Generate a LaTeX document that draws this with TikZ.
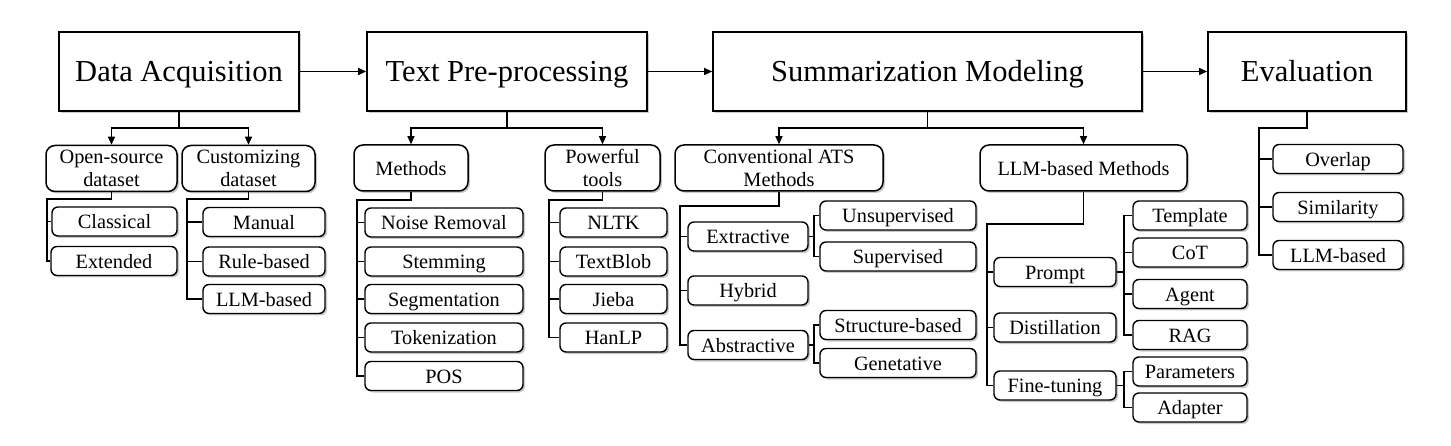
\documentclass[tikz,border=0pt]{standalone}
\usepackage{fontspec}
\setmainfont{Liberation Serif}
\usetikzlibrary{arrows.meta,shadows,calc}
\begin{document}
\begin{tikzpicture}[x=1pt,y=-1pt,
  shd/.style={drop shadow={shadow xshift=2pt,shadow yshift=-2pt,opacity=0.35,fill=black!60}},
  mainbox/.style={draw,line width=1.7pt,fill=white,shd,inner sep=0pt,minimum height=79pt,
    text height=21pt,text depth=0pt,font=\fontsize{30.5}{34}\selectfont},
  catbox/.style={draw,line width=1.5pt,fill=white,shd,rounded corners=9pt,inner sep=0pt,
    minimum height=46pt,align=center,font=\fontsize{20.3}{23.5}\selectfont},
  oneline/.style={text height=14.5pt,text depth=0pt},
  leaf/.style={draw,line width=1.4pt,fill=white,shd,rounded corners=6pt,inner sep=0pt,
    minimum height=29pt,text height=14.5pt,text depth=0pt,font=\fontsize{20.3}{24}\selectfont},
  conn/.style={line width=1.1pt},
  arr/.style={line width=1.1pt,-{Triangle[length=8pt,width=7pt]}}]
\useasboundingbox (0,0) rectangle (1451,446);

% main boxes
\node[mainbox,minimum width=240pt] (DA) at (179,71.5) {Data Acquisition};
\node[mainbox,minimum width=280pt] (TP) at (507,71.5) {Text Pre-processing};
\node[mainbox,minimum width=429pt] (SM) at (927.5,71.5) {Summarization Modeling};
\node[mainbox,minimum width=198pt] (EV) at (1307,71.5) {Evaluation};
\draw[arr] (DA) -- (TP);
\draw[arr] (TP) -- (SM);
\draw[arr] (SM) -- (EV);

% category boxes
\node[catbox,minimum width=131pt] (OS) at (111.5,168.5) {Open-source\\dataset};
\node[catbox,minimum width=133pt] (CD) at (248.5,168.5) {Customizing\\dataset};
\node[catbox,oneline,minimum width=114pt] (ME) at (411,168) {Methods};
\node[catbox,minimum width=115pt] (PT) at (602.5,168) {Powerful\\tools};
\node[catbox,minimum width=208pt] (CA) at (779,168) {Conventional ATS\\Methods};
\node[catbox,oneline,minimum width=207pt] (LM) at (1083.5,168) {LLM-based Methods};

\coordinate (j1) at (0,128);
\draw[arr] (DA.south) |- (j1 -| OS.north) -- (OS.north);
\draw[arr] (DA.south) |- (j1 -| CD.north) -- (CD.north);
\draw[arr] (TP.south) |- (j1 -| ME.north) -- (ME.north);
\draw[arr] (TP.south) |- (j1 -| PT.north) -- (PT.north);
\draw[arr] (SM.south) |- (j1 -| CA.north) -- (CA.north);
\draw[arr] (SM.south) |- (j1 -| LM.north) -- (LM.north);

% Data acquisition leaves
\node[leaf,minimum width=125pt] (CL) at (114.5,221.5) {Classical};
\node[leaf,minimum width=126pt] (EX) at (114,261) {Extended};
\node[leaf,minimum width=122pt] (MA) at (264,222) {Manual};
\node[leaf,minimum width=122pt] (RB) at (264,261.5) {Rule-based};
\node[leaf,minimum width=122pt] (LB) at (264,299) {LLM-based};
\coordinate (osj) at (47,199);
\draw[conn] (OS.south) |- (osj) -- (osj |- EX.west) -- (EX.west);
\draw[conn] (osj |- CL.west) -- (CL.west);
\coordinate (cdj) at (187,199);
\draw[conn] (CD.south) |- (cdj) -- (cdj |- LB.west) -- (LB.west);
\draw[conn] (cdj |- MA.west) -- (MA.west);
\draw[conn] (cdj |- RB.west) -- (RB.west);

% Pre-processing leaves
\node[leaf,minimum width=158pt] (NR) at (444,222.5) {Noise Removal};
\node[leaf,minimum width=158pt] (ST) at (444,261.5) {Stemming};
\node[leaf,minimum width=158pt] (SG) at (444,299) {Segmentation};
\node[leaf,minimum width=158pt] (TK) at (444,337.5) {Tokenization};
\node[leaf,minimum width=158pt] (PO) at (444,376) {POS};
\coordinate (mej) at (357,200);
\draw[conn] (ME.south) |- (mej) -- (mej |- PO.west) -- (PO.west);
\foreach \n in {NR,ST,SG,TK} \draw[conn] (mej |- \n.west) -- (\n.west);

\node[leaf,minimum width=107pt] (NL) at (613.5,222.5) {NLTK};
\node[leaf,minimum width=107pt] (TB) at (613.5,261.5) {TextBlob};
\node[leaf,minimum width=107pt] (JB) at (613.5,299) {Jieba};
\node[leaf,minimum width=107pt] (HL) at (613.5,337.5) {HanLP};
\coordinate (ptj) at (549,200);
\draw[conn] (PT.south) |- (ptj) -- (ptj |- HL.west) -- (HL.west);
\foreach \n in {NL,TB,JB} \draw[conn] (ptj |- \n.west) -- (\n.west);

% Conventional ATS
\node[leaf,minimum width=120pt] (ET) at (748,236.5) {Extractive};
\node[leaf,minimum width=120pt] (HY) at (748,290.5) {Hybrid};
\node[leaf,minimum width=120pt] (AB) at (748,345) {Abstractive};
\coordinate (caj) at (680,206);
\draw[conn] (CA.south) |- (caj) -- (caj |- AB.west) -- (AB.west);
\foreach \n in {ET,HY} \draw[conn] (caj |- \n.west) -- (\n.west);

\node[leaf,minimum width=156pt] (UN) at (898,215.5) {Unsupervised};
\node[leaf,minimum width=156pt] (SU) at (898,256.5) {Supervised};
\node[leaf,minimum width=156pt] (SB) at (898,325) {Structure-based};
\node[leaf,minimum width=156pt] (GE) at (898,363) {Genetative};
\coordinate (etj) at (814,236.5);
\draw[conn] (ET.east) -- (etj);
\draw[conn] (UN.west) -| (etj) |- (SU.west);
\coordinate (abj) at (814,345);
\draw[conn] (AB.east) -- (abj);
\draw[conn] (SB.west) -| (abj) |- (GE.west);

% LLM-based methods
\node[leaf,minimum width=122pt] (PR) at (1055,272) {Prompt};
\node[leaf,minimum width=122pt] (DI) at (1055,327.5) {Distillation};
\node[leaf,minimum width=122pt] (FT) at (1055,385.5) {Fine-tuning};
\coordinate (lmj) at (987,224);
\draw[conn] (LM.south) |- (lmj) -- (lmj |- FT.west) -- (FT.west);
\foreach \n in {PR,DI} \draw[conn] (lmj |- \n.west) -- (\n.west);

\node[leaf,minimum width=114pt] (TE) at (1190,215.5) {Template};
\node[leaf,minimum width=114pt] (CO) at (1190,252.5) {CoT};
\node[leaf,minimum width=114pt] (AG) at (1190,294) {Agent};
\node[leaf,minimum width=114pt] (RA) at (1190,335) {RAG};
\node[leaf,minimum width=114pt] (PA) at (1190,371.5) {Parameters};
\node[leaf,minimum width=114pt] (AD) at (1190,407.5) {Adapter};
\coordinate (prj) at (1124,272);
\draw[conn] (PR.east) -- (prj);
\draw[conn] (TE.west) -| (prj) |- (RA.west);
\draw[conn] (prj |- CO.west) -- (CO.west);
\draw[conn] (prj |- AG.west) -- (AG.west);
\coordinate (ftj) at (1124,385.5);
\draw[conn] (FT.east) -- (ftj);
\draw[conn] (PA.west) -| (ftj) |- (AD.west);

% Evaluation
\node[leaf,minimum width=130pt] (OV) at (1338,159) {Overlap};
\node[leaf,minimum width=130pt] (SI) at (1338,207) {Similarity};
\node[leaf,minimum width=130pt] (LE) at (1338,255) {LLM-based};
\coordinate (evj) at (1259,128);
\draw[conn] (EV.south) |- (evj) -- (evj |- LE.west) -- (LE.west);
\foreach \n in {OV,SI} \draw[conn] (evj |- \n.west) -- (\n.west);
\end{tikzpicture}
\end{document}
